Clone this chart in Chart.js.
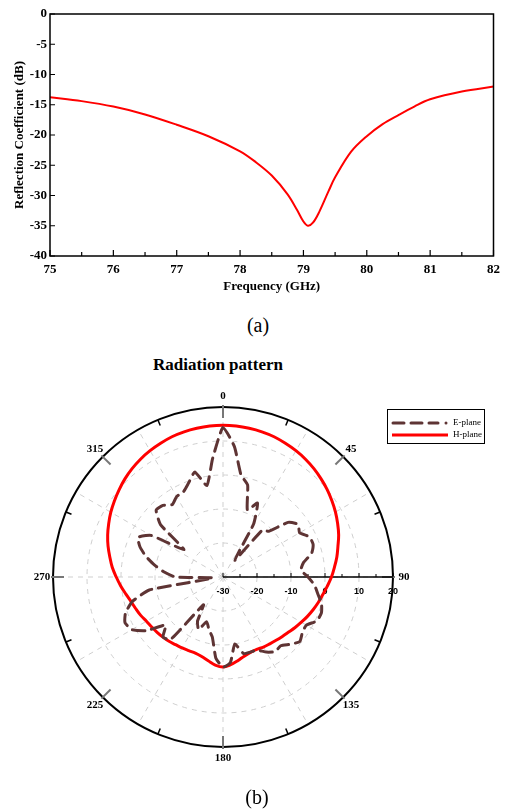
<!DOCTYPE html>
<html>
<head>
<meta charset="utf-8">
<script src="https://cdn.jsdelivr.net/npm/chart.js@4.4.0/dist/chart.umd.min.js"></script>
<style>
  body { margin: 0; background: #fff; }
  #wrap { position: relative; width: 506px; height: 812px; overflow: hidden; background: #fff; }
  canvas { position: absolute; left: 0; }
  .txt { position: absolute; transform: translate(-50%, -50%); white-space: nowrap; color: #000; font-family: "Liberation Serif", "Times New Roman", serif; }
</style>
</head>
<body>
<div id="wrap">
  <canvas id="s11" width="506" height="300" style="top:0"></canvas>
  <div class="txt" style="left:258px;top:325px;font-size:20px">(a)</div>
  <div class="txt" style="left:218px;top:365px;font-size:17px;font-weight:bold">Radiation pattern</div>
  <canvas id="polar" width="506" height="472" style="top:340px"></canvas>
  <div class="txt" style="left:257px;top:797px;font-size:20px">(b)</div>
</div>
<script>
// reflection coefficient
var freq = [75, 75.5, 76, 76.5, 77, 77.5, 78, 78.25, 78.5, 78.75, 78.9, 79, 79.07, 79.15, 79.25, 79.4, 79.5, 79.75, 80, 80.25, 80.5, 80.75, 81, 81.5, 82];
var s11 = [-13.75, -14.4, -15.3, -16.6, -18.3, -20.2, -22.7, -24.5, -26.7, -29.8, -32.4, -34.3, -35, -34.5, -32.7, -29.2, -27, -22.8, -20.2, -18.2, -16.7, -15.3, -14.1, -12.8, -12];

// radiation pattern, every 5 degrees
var angles = ["0", "5", "10", "15", "20", "25", "30", "35", "40", "45", "50", "55",
  "60", "65", "70", "75", "80", "85", "90", "95", "100", "105", "110", "115",
  "120", "125", "130", "135", "140", "145", "150", "155", "160", "165", "170", "175",
  "180", "185", "190", "195", "200", "205", "210", "215", "220", "225", "230", "235",
  "240", "245", "250", "255", "260", "265", "270", "275", "280", "285", "290", "295",
  "300", "305", "310", "315", "320", "325", "330", "335", "340", "345", "350", "355"];
var ePlane = [14, 8.5, 0.5, -2, -9, -6, -12, -24, -12, -11, -5, -3,
  -4, -2, -1.8, -3, -6, -7, -5, -3, -1.7, 0, 0.8, 0.5,
  -1.7, -1.5, -0.5, -2, -3.6, -3.2, -4.5, -6.3, -6.5, -6.7, -10, -4.8,
  -3.5, -6, -12, -14, -16, -13, -15, -20, -6, -5, -8, -2.5,
  1, 1.8, 0.5, -2.5, -8, -27, -16, -12.5, -9.5, -6.5, -4, -2.4,
  -5.5, -16, -6, -2.2, -2.5, -4, -2.7, -2.4, -0.5, 2, -2.7, 5];
var hPlane = [14.6, 14.55, 14.4, 14.2, 13.9, 13.4, 12.9, 12.3, 11.6, 10.8, 10, 9.1,
  8.2, 7.2, 6.2, 5, 4, 2.9, 1.9, 0.8, -0.2, -1, -1.8, -2.6,
  -3.4, -4.1, -4.8, -5.3, -5.7, -6, -6.2, -6.5, -6.4, -5.9, -5, -4.1,
  -3.5, -4, -5, -5.8, -6.2, -6.1, -5.9, -5.7, -5.3, -5, -4.7, -4.4,
  -4, -3.3, -2.7, -2, -1, 0.2, 1.4, 2.7, 3.8, 5, 6.1, 7.1,
  8.1, 9, 9.9, 10.8, 11.6, 12.3, 12.9, 13.4, 13.9, 14.2, 14.4, 14.55];
var ringLabels = ["0", "45", "90", "135", "180", "225", "270", "315"];

var serifBold = { family: "'Liberation Serif', 'Times New Roman', serif", size: 13, weight: "bold" };

// frame with inward ticks for the top plot
var frameTicks = {
  id: "frameTicks",
  afterDraw: function (chart) {
    var ctx = chart.ctx;
    var a = chart.chartArea;
    var x = chart.scales.x;
    var y = chart.scales.y;
    ctx.save();
    ctx.strokeStyle = "#000";
    ctx.lineWidth = 1.5;
    ctx.strokeRect(a.left, a.top, a.right - a.left, a.bottom - a.top);
    ctx.lineWidth = 1.2;
    ctx.beginPath();
    for (var v = x.min; v <= x.max + 0.01; v += 0.5) {
      var px = x.getPixelForValue(v);
      var len = Math.abs(v - Math.round(v)) < 0.01 ? 6 : 4;
      ctx.moveTo(px, a.bottom);
      ctx.lineTo(px, a.bottom - len);
    }
    y.ticks.forEach(function (t) {
      var py = y.getPixelForValue(t.value);
      ctx.moveTo(a.left, py);
      ctx.lineTo(a.left + 5, py);
    });
    ctx.stroke();
    ctx.restore();
  }
};

new Chart(document.getElementById("s11"), {
  type: "line",
  data: {
    datasets: [{
      data: freq.map(function (f, i) { return { x: f, y: s11[i] }; }),
      borderColor: "#ff0000",
      borderWidth: 2,
      pointRadius: 0,
      tension: 0.35,
      fill: false
    }]
  },
  options: {
    responsive: false,
    animation: false,
    layout: { padding: { top: 14, right: 9, left: 0, bottom: 0 } },
    plugins: { legend: { display: false }, tooltip: { enabled: false } },
    scales: {
      x: {
        type: "linear", min: 75, max: 82,
        grid: { display: false, drawTicks: false },
        border: { display: false },
        ticks: { stepSize: 1, padding: 6, color: "#000", font: serifBold, maxRotation: 0 },
        title: { display: true, text: "Frequency (GHz)", color: "#000", font: serifBold, padding: { top: 0, bottom: 6 } },
        afterFit: function (s) { s.height = 44; }
      },
      y: {
        min: -40, max: 0,
        grid: { display: false, drawTicks: false },
        border: { display: false },
        ticks: { stepSize: 5, padding: 3, color: "#000", font: serifBold },
        title: { display: true, text: "Reflection Coefficient (dB)", color: "#000", font: serifBold, padding: { top: 12, bottom: 0 } },
        afterFit: function (s) { s.width = 50; }
      }
    }
  },
  plugins: [frameTicks]
});

// axis along 90 deg, ring ticks, angle labels, legend
var polarDecor = {
  id: "polarDecor",
  beforeDatasetsDraw: function (chart) {
    var ctx = chart.ctx;
    var r = chart.scales.r;
    var R = r.drawingArea;
    var cx = r.xCenter, cy = r.yCenter;
    ctx.save();
    // ticks on the outer ring
    for (var k = 0; k < 16; k++) {
      var ang = k * Math.PI / 8;
      var major = k % 2 === 0;
      var p1 = r.getPointPosition(0, R - (major ? 11 : 6), ang);
      var p2 = r.getPointPosition(0, R + (major ? 2 : 0), ang);
      ctx.strokeStyle = major ? "#777" : "#000";
      ctx.lineWidth = major ? 2 : 1.5;
      ctx.beginPath();
      ctx.moveTo(p1.x, p1.y);
      ctx.lineTo(p2.x, p2.y);
      ctx.stroke();
    }
    // radial axis
    ctx.strokeStyle = "#000";
    ctx.lineWidth = 1.5;
    ctx.beginPath();
    ctx.moveTo(cx, cy);
    ctx.lineTo(cx + R, cy);
    ctx.stroke();
    ctx.lineWidth = 1;
    ctx.beginPath();
    for (var v = r.min; v <= r.max; v += 5) {
      var d = r.getDistanceFromCenterForValue(v);
      ctx.moveTo(cx + d, cy);
      ctx.lineTo(cx + d, cy - (v % 10 === 0 ? 4 : 3));
    }
    ctx.stroke();
    ctx.fillStyle = "#000";
    ctx.font = "bold 9px 'Liberation Sans', Arial, sans-serif";
    ctx.textAlign = "center";
    ctx.textBaseline = "middle";
    r.ticks.forEach(function (t) {
      var dd = r.getDistanceFromCenterForValue(t.value);
      ctx.fillText(String(t.value), cx + dd, cy + 15);
    });
    // angle labels
    ctx.font = "bold 11px 'Liberation Serif', 'Times New Roman', serif";
    ringLabels.forEach(function (lab, i) {
      var p = r.getPointPosition(0, R + 11, i * Math.PI / 4);
      ctx.fillText(lab, p.x, p.y);
    });
    ctx.restore();
  },
  afterDraw: function (chart) {
    var ctx = chart.ctx;
    var ds = chart.data.datasets;
    ctx.save();
    ctx.strokeStyle = "#000";
    ctx.lineWidth = 1;
    ctx.strokeRect(387.5, 69.5, 97, 34);
    ctx.lineCap = "round";
    ctx.strokeStyle = ds[0].borderColor;
    ctx.lineWidth = 3;
    ctx.setLineDash([11, 7]);
    ctx.beginPath();
    ctx.moveTo(393, 83);
    ctx.lineTo(438, 83);
    ctx.stroke();
    ctx.setLineDash([]);
    ctx.beginPath();
    ctx.arc(446, 83, 1.5, 0, Math.PI * 2);
    ctx.fillStyle = ds[0].borderColor;
    ctx.fill();
    ctx.strokeStyle = ds[1].borderColor;
    ctx.lineCap = "butt";
    ctx.beginPath();
    ctx.moveTo(392, 95);
    ctx.lineTo(448, 95);
    ctx.stroke();
    ctx.fillStyle = "#000";
    ctx.font = "9px 'Liberation Serif', 'Times New Roman', serif";
    ctx.textBaseline = "middle";
    ctx.fillText(ds[0].label, 453, 83);
    ctx.fillText(ds[1].label, 453, 95);
    ctx.restore();
  }
};

new Chart(document.getElementById("polar"), {
  type: "radar",
  data: {
    labels: angles,
    datasets: [
      {
        label: "E-plane",
        data: ePlane,
        borderColor: "#5e3434",
        borderWidth: 3,
        borderDash: [12, 7],
        borderCapStyle: "round",
        pointRadius: 0,
        tension: 0.15,
        fill: false
      },
      {
        label: "H-plane",
        data: hPlane,
        borderColor: "#ff0000",
        borderWidth: 3,
        pointRadius: 0,
        tension: 0.35,
        fill: false
      }
    ]
  },
  options: {
    responsive: false,
    animation: false,
    layout: { padding: { left: 53, right: 113, top: 67, bottom: 65 } },
    plugins: { legend: { display: false }, tooltip: { enabled: false } },
    scales: {
      r: {
        min: -30, max: 20,
        startAngle: 0,
        ticks: { display: false, stepSize: 10 },
        pointLabels: { display: false },
        grid: {
          circular: true,
          color: function (c) { return c.tick && c.tick.value === 20 ? "#000" : "#cfcfcf"; },
          lineWidth: function (c) { return c.tick && c.tick.value === 20 ? 2 : 1; }
        },
        border: {
          dash: function (c) { return c.tick && c.tick.value === 20 ? [] : [5, 5]; }
        },
        angleLines: {
          color: "#cfcfcf",
          lineWidth: function (c) { return c.index % 6 === 0 ? 1 : 0; },
          borderDash: [5, 5]
        }
      }
    }
  },
  plugins: [polarDecor]
});
</script>
</body>
</html>
